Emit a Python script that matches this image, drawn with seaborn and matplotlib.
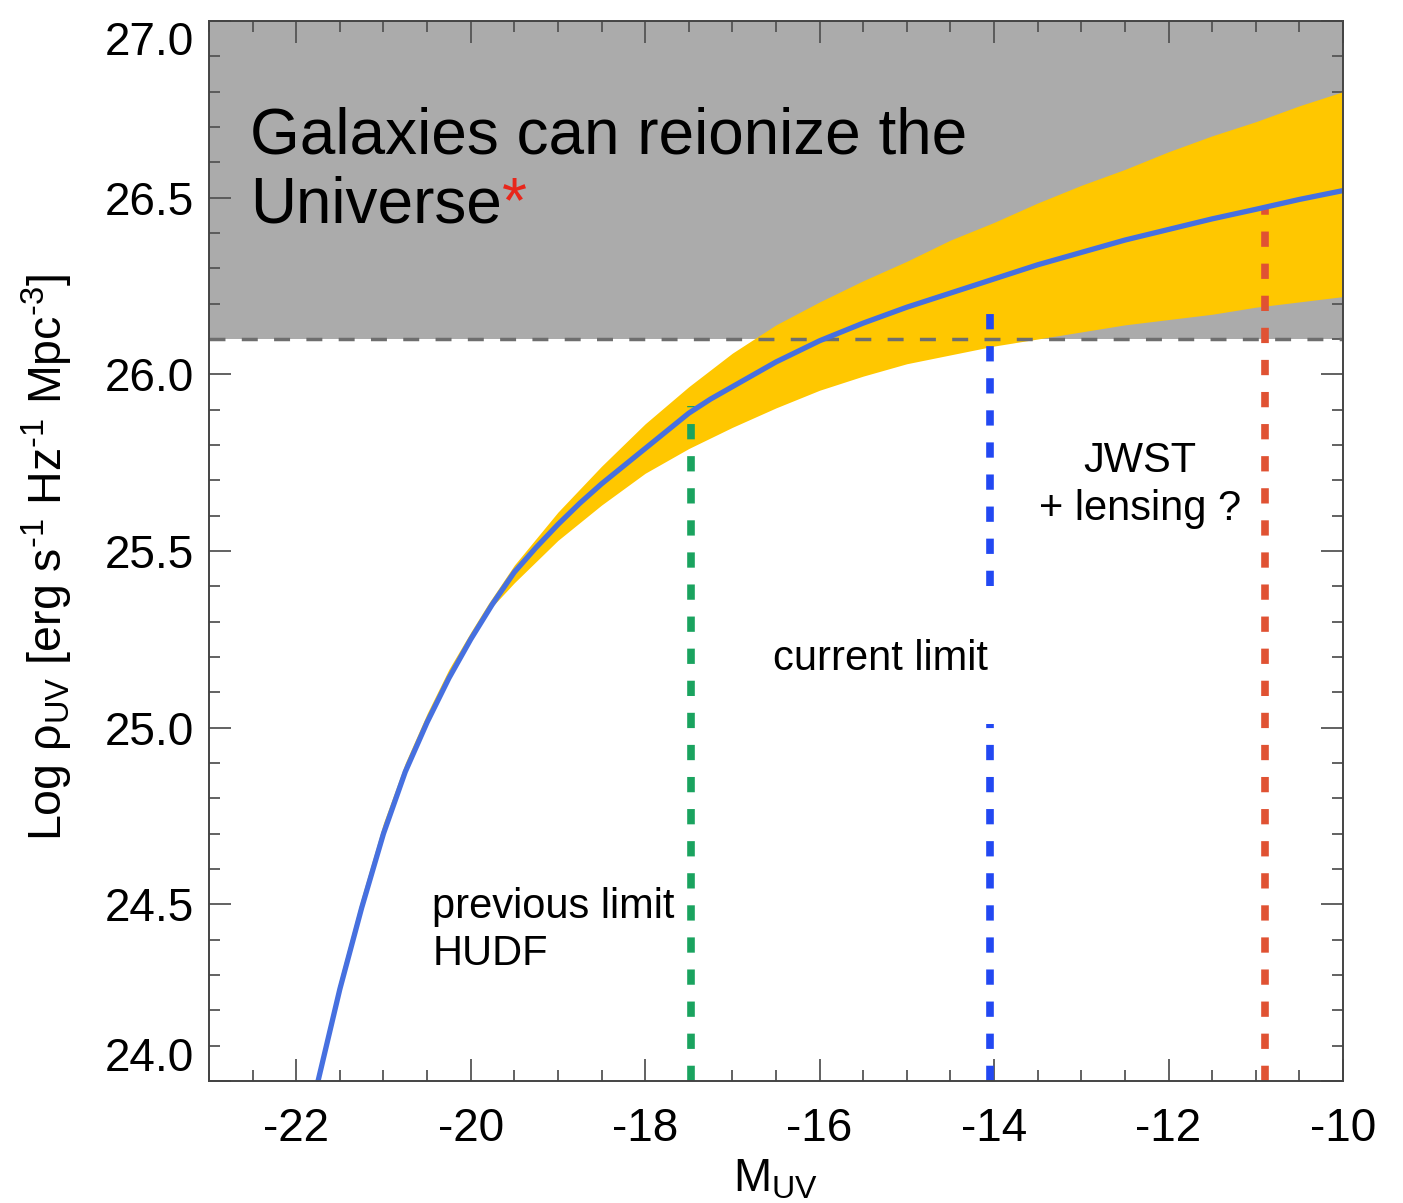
import numpy as np
import pandas as pd
import matplotlib
matplotlib.use("Agg")
import matplotlib.pyplot as plt
import seaborn as sns
from matplotlib.ticker import MultipleLocator, FormatStrFormatter

# ---------------- data ----------------
M_curve = [-21.85, -21.75, -21.5, -21.25, -21.0, -20.75, -20.5, -20.25, -20.0,
           -19.75, -19.5, -19.25, -19.0, -18.75, -18.5, -18.25, -18.0, -17.75,
           -17.5, -17.25, -17.0, -16.5, -16.0, -15.5, -15.0, -14.5, -14.0,
           -13.5, -13.0, -12.5, -12.0, -11.5, -11.0, -10.5, -10.0]
logrho_curve = [23.89, 24.00, 24.26, 24.49, 24.70, 24.875, 25.015, 25.14, 25.25,
                25.35, 25.44, 25.51, 25.575, 25.635, 25.69, 25.74, 25.79, 25.84,
                25.89, 25.93, 25.965, 26.035, 26.095, 26.145, 26.19, 26.23, 26.27,
                26.31, 26.345, 26.38, 26.41, 26.44, 26.467, 26.495, 26.52]

M_band = [-21.85, -21.75, -21.5, -21.25, -21.0, -20.75, -20.5, -20.25, -20.0,
          -19.8, -19.5, -19.0, -18.5, -18.0, -17.5, -17.0, -16.5, -16.0, -15.5,
          -15.0, -14.5, -14.0, -13.5, -13.0, -12.5, -12.0, -11.5, -11.0, -10.5,
          -10.0]
logrho_upper = [23.92, 24.03, 24.29, 24.52, 24.73, 24.90, 25.04, 25.165, 25.27,
                25.35, 25.46, 25.61, 25.74, 25.86, 25.965, 26.06, 26.14, 26.205,
                26.265, 26.32, 26.38, 26.43, 26.485, 26.535, 26.58, 26.63, 26.675,
                26.715, 26.76, 26.80]
logrho_lower = [23.885, 23.995, 24.255, 24.485, 24.695, 24.87, 25.01, 25.135, 25.245,
                25.33, 25.41, 25.53, 25.63, 25.72, 25.79, 25.85, 25.905, 25.955,
                25.995, 26.03, 26.055, 26.08, 26.10, 26.12, 26.14, 26.155, 26.17,
                26.19, 26.205, 26.22]

reion_level = 26.1

M_prev = -17.47          # previous limit (HUDF)
prev_top = 25.91
M_curr = -14.05          # current limit
curr_low = [24.0, 25.01]
curr_high = [25.40, 26.21]
M_jwst = -10.89          # JWST + lensing
jwst_top = 26.47

x_ticks = [-22, -20, -18, -16, -14, -12, -10]
y_ticks = [24.0, 24.5, 25.0, 25.5, 26.0, 26.5, 27.0]

# ---------------- style ----------------
sns.set_theme(style="ticks")
plt.rcParams["font.family"] = ["Liberation Sans", "DejaVu Sans"]
plt.rcParams["mathtext.fontset"] = "custom"
plt.rcParams["mathtext.rm"] = "Liberation Sans"
plt.rcParams["mathtext.it"] = "Liberation Sans:italic"
plt.rcParams["mathtext.bf"] = "Liberation Sans:bold"
plt.rcParams["axes.unicode_minus"] = False
plt.rcParams["text.color"] = "black"

W, H = 1403, 1203
fig = plt.figure(figsize=(W / 100, H / 100), dpi=100)
fig.patch.set_facecolor("white")
ax = fig.add_axes([209 / W, (H - 1081) / H, 1134 / W, 1060 / H])
ax.set_facecolor("white")

# grey region where galaxies can reionize
ax.axhspan(reion_level, 27.0, color="#ABABAB", lw=0, zorder=0)

# uncertainty band
ax.fill_between(M_band, logrho_lower, logrho_upper, color="#FFC700", lw=0, zorder=1)

# reionization threshold
ax.axhline(reion_level, color="#6E6E6E", lw=2.5, ls=(0, (4.6, 4.7)), zorder=2)

# vertical limits
vls = (0, (2.0, 2.2))
ax.plot([M_prev, M_prev], [24.0, prev_top], color="#1AA35F", lw=5.5, ls=vls,
        dash_capstyle="butt", zorder=3)
ax.plot([M_curr, M_curr], curr_low, color="#2248F2", lw=5.5, ls=vls,
        dash_capstyle="butt", zorder=3)
ax.plot([M_curr, M_curr], curr_high, color="#2248F2", lw=5.5, ls=vls,
        dash_capstyle="butt", zorder=3)
ax.plot([M_jwst, M_jwst], [24.0, jwst_top], color="#E05233", lw=5.5, ls=vls,
        dash_capstyle="butt", zorder=3)

# central curve
df = pd.DataFrame({"M": M_curve, "rho": logrho_curve})
sns.lineplot(data=df, x="M", y="rho", ax=ax, color="#4670E0", lw=3.8, zorder=4,
             sort=False, estimator=None)

# ---------------- axes ----------------
ax.set_xlim(-23, -10)
ax.set_ylim(24.0, 27.0)
ax.set_xticks(x_ticks)
ax.set_yticks(y_ticks)
ax.xaxis.set_minor_locator(MultipleLocator(0.5))
ax.yaxis.set_minor_locator(MultipleLocator(0.1))
ax.xaxis.set_major_formatter(FormatStrFormatter("%d"))
ax.yaxis.set_major_formatter(FormatStrFormatter("%.1f"))

tc = "#555555"
ax.tick_params(which="major", direction="in", length=15.5, width=1.3, color=tc,
               top=True, right=True, labelsize=33, labelcolor="black")
ax.tick_params(axis="x", which="major", pad=19)
ax.tick_params(axis="y", which="major", pad=11)
ax.tick_params(which="minor", direction="in", length=8, width=1.3, color=tc,
               top=True, right=True)
for s in ax.spines.values():
    s.set_visible(True)
    s.set_color("#444444")
    s.set_linewidth(1.4)
    s.set_zorder(6)

ylabs = ax.get_yticklabels()
ylabs[0].set_va("bottom")
ylabs[-1].set_va("top")

ax.set_xlabel(r"M$_\mathregular{UV}$", fontsize=33, color="black")
ax.xaxis.set_label_coords(0.5, -0.072)
ax.xaxis.label.set_va("top")
ax.set_ylabel("Log ρ$_\\mathregular{UV}$ [erg s$^\\mathregular{\u20101}$ "
              "Hz$^\\mathregular{\u20101}$ Mpc$^\\mathregular{\u20103}$]",
              fontsize=33.5, color="black")
ax.yaxis.set_label_coords(-0.118, 0.494)

# ---------------- annotations ----------------
ax.text(-22.53, 26.624, "Galaxies can reionize the", fontsize=46, va="baseline",
        ha="left", color="black", zorder=7)
t2 = ax.text(-22.53, 26.431, "Universe", fontsize=46, va="baseline", ha="left",
             color="black", zorder=7)
ax.annotate("*", xy=(1, 0), xycoords=t2, fontsize=46, color="#E8261B",
            ha="left", va="bottom", zorder=7)

ax.text(-20.44, 24.461, "previous limit", fontsize=30, va="baseline", ha="left", color="black")
ax.text(-20.44, 24.328, "HUDF", fontsize=30, va="baseline", ha="left", color="black")
ax.text(-16.53, 25.163, "current limit", fontsize=30, va="baseline", ha="left", color="black")
ax.text(-12.33, 25.724, "JWST", fontsize=30, va="baseline", ha="center", color="black")
ax.text(-12.33, 25.588, "+ lensing ?", fontsize=30, va="baseline", ha="center", color="black")

fig.savefig("out.png", dpi=100, facecolor="white")
